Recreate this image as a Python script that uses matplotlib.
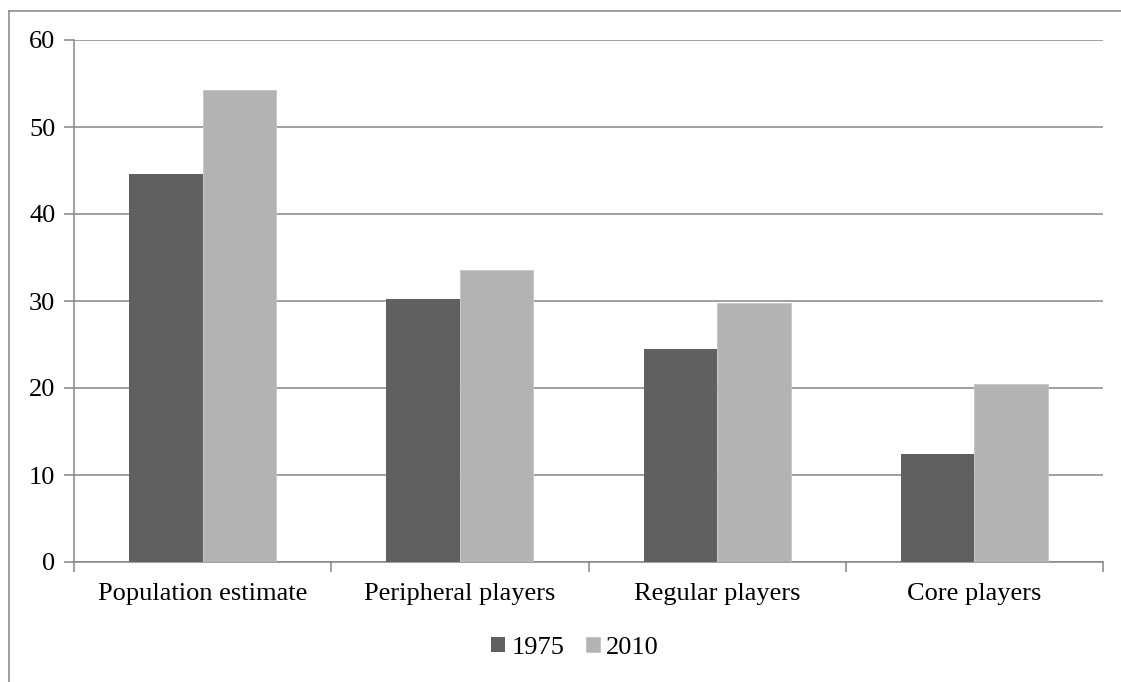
import matplotlib
matplotlib.use("Agg")
import matplotlib.pyplot as plt
import numpy as np
from matplotlib.lines import Line2D

plt.rcParams['font.family'] = ['Liberation Serif', 'DejaVu Serif']

categories = ["Population estimate", "Peripheral players", "Regular players", "Core players"]
values_1975 = [44.6, 30.2, 24.5, 12.4]
values_2010 = [54.2, 33.6, 29.8, 20.5]
series_names = ["1975", "2010"]
y_ticks = [0, 10, 20, 30, 40, 50, 60]

W, H = 1121, 682
fig = plt.figure(figsize=(W / 100, H / 100), dpi=100)
fig.patch.set_facecolor("white")

ax = fig.add_axes([74 / W, (H - 562) / H, 1029 / W, 522 / H])

grey = "#868686"
fs = 19
x = np.arange(len(categories))
bw = 1 / 3.5
ax.bar(x - bw / 2, values_1975, width=bw, color="#606060", zorder=3, label=series_names[0])
ax.bar(x + bw / 2, values_2010, width=bw, color="#b3b3b3", edgecolor="#c4c4c4",
       linewidth=0.6, zorder=3, label=series_names[1])

ax.set_xlim(-0.5, len(categories) - 0.5)
ax.set_ylim(0, 60)
ax.set_yticks(y_ticks)
ax.set_yticklabels([str(v) for v in y_ticks])
ax.yaxis.grid(True, color=grey, linewidth=1.1, zorder=0)
ax.set_axisbelow(True)

ax.set_xticks(x)
ax.set_xticklabels(categories)
ax.set_xticks(np.arange(len(categories) + 1) - 0.5, minor=True)
ax.tick_params(axis="x", which="major", length=0, pad=15, labelsize=fs)
ax.tick_params(axis="x", which="minor", length=7, width=1.1, color=grey, direction="out")
ax.tick_params(axis="y", length=7, width=1.1, color=grey, pad=6.5, labelsize=fs)

for s in ("top", "right"):
    ax.spines[s].set_visible(False)
for s in ("left", "bottom"):
    ax.spines[s].set_color(grey)
    ax.spines[s].set_linewidth(1.1)

leg = fig.legend(loc="center", bbox_to_anchor=(575 / W, 1 - 648 / H), ncol=2,
                 frameon=False, fontsize=fs, handlelength=0.53, handleheight=0.53,
                 handletextpad=0.25, columnspacing=0.8)

# chart-area frame (left and top edges)
fig.add_artist(Line2D([8.5 / W, 8.5 / W], [0, 1 - 11 / H], transform=fig.transFigure,
                      color=grey, linewidth=1.1))
fig.add_artist(Line2D([8.5 / W, 1.01], [1 - 11 / H, 1 - 11 / H], transform=fig.transFigure,
                      color=grey, linewidth=1.1))

fig.savefig("out.png", dpi=100)
